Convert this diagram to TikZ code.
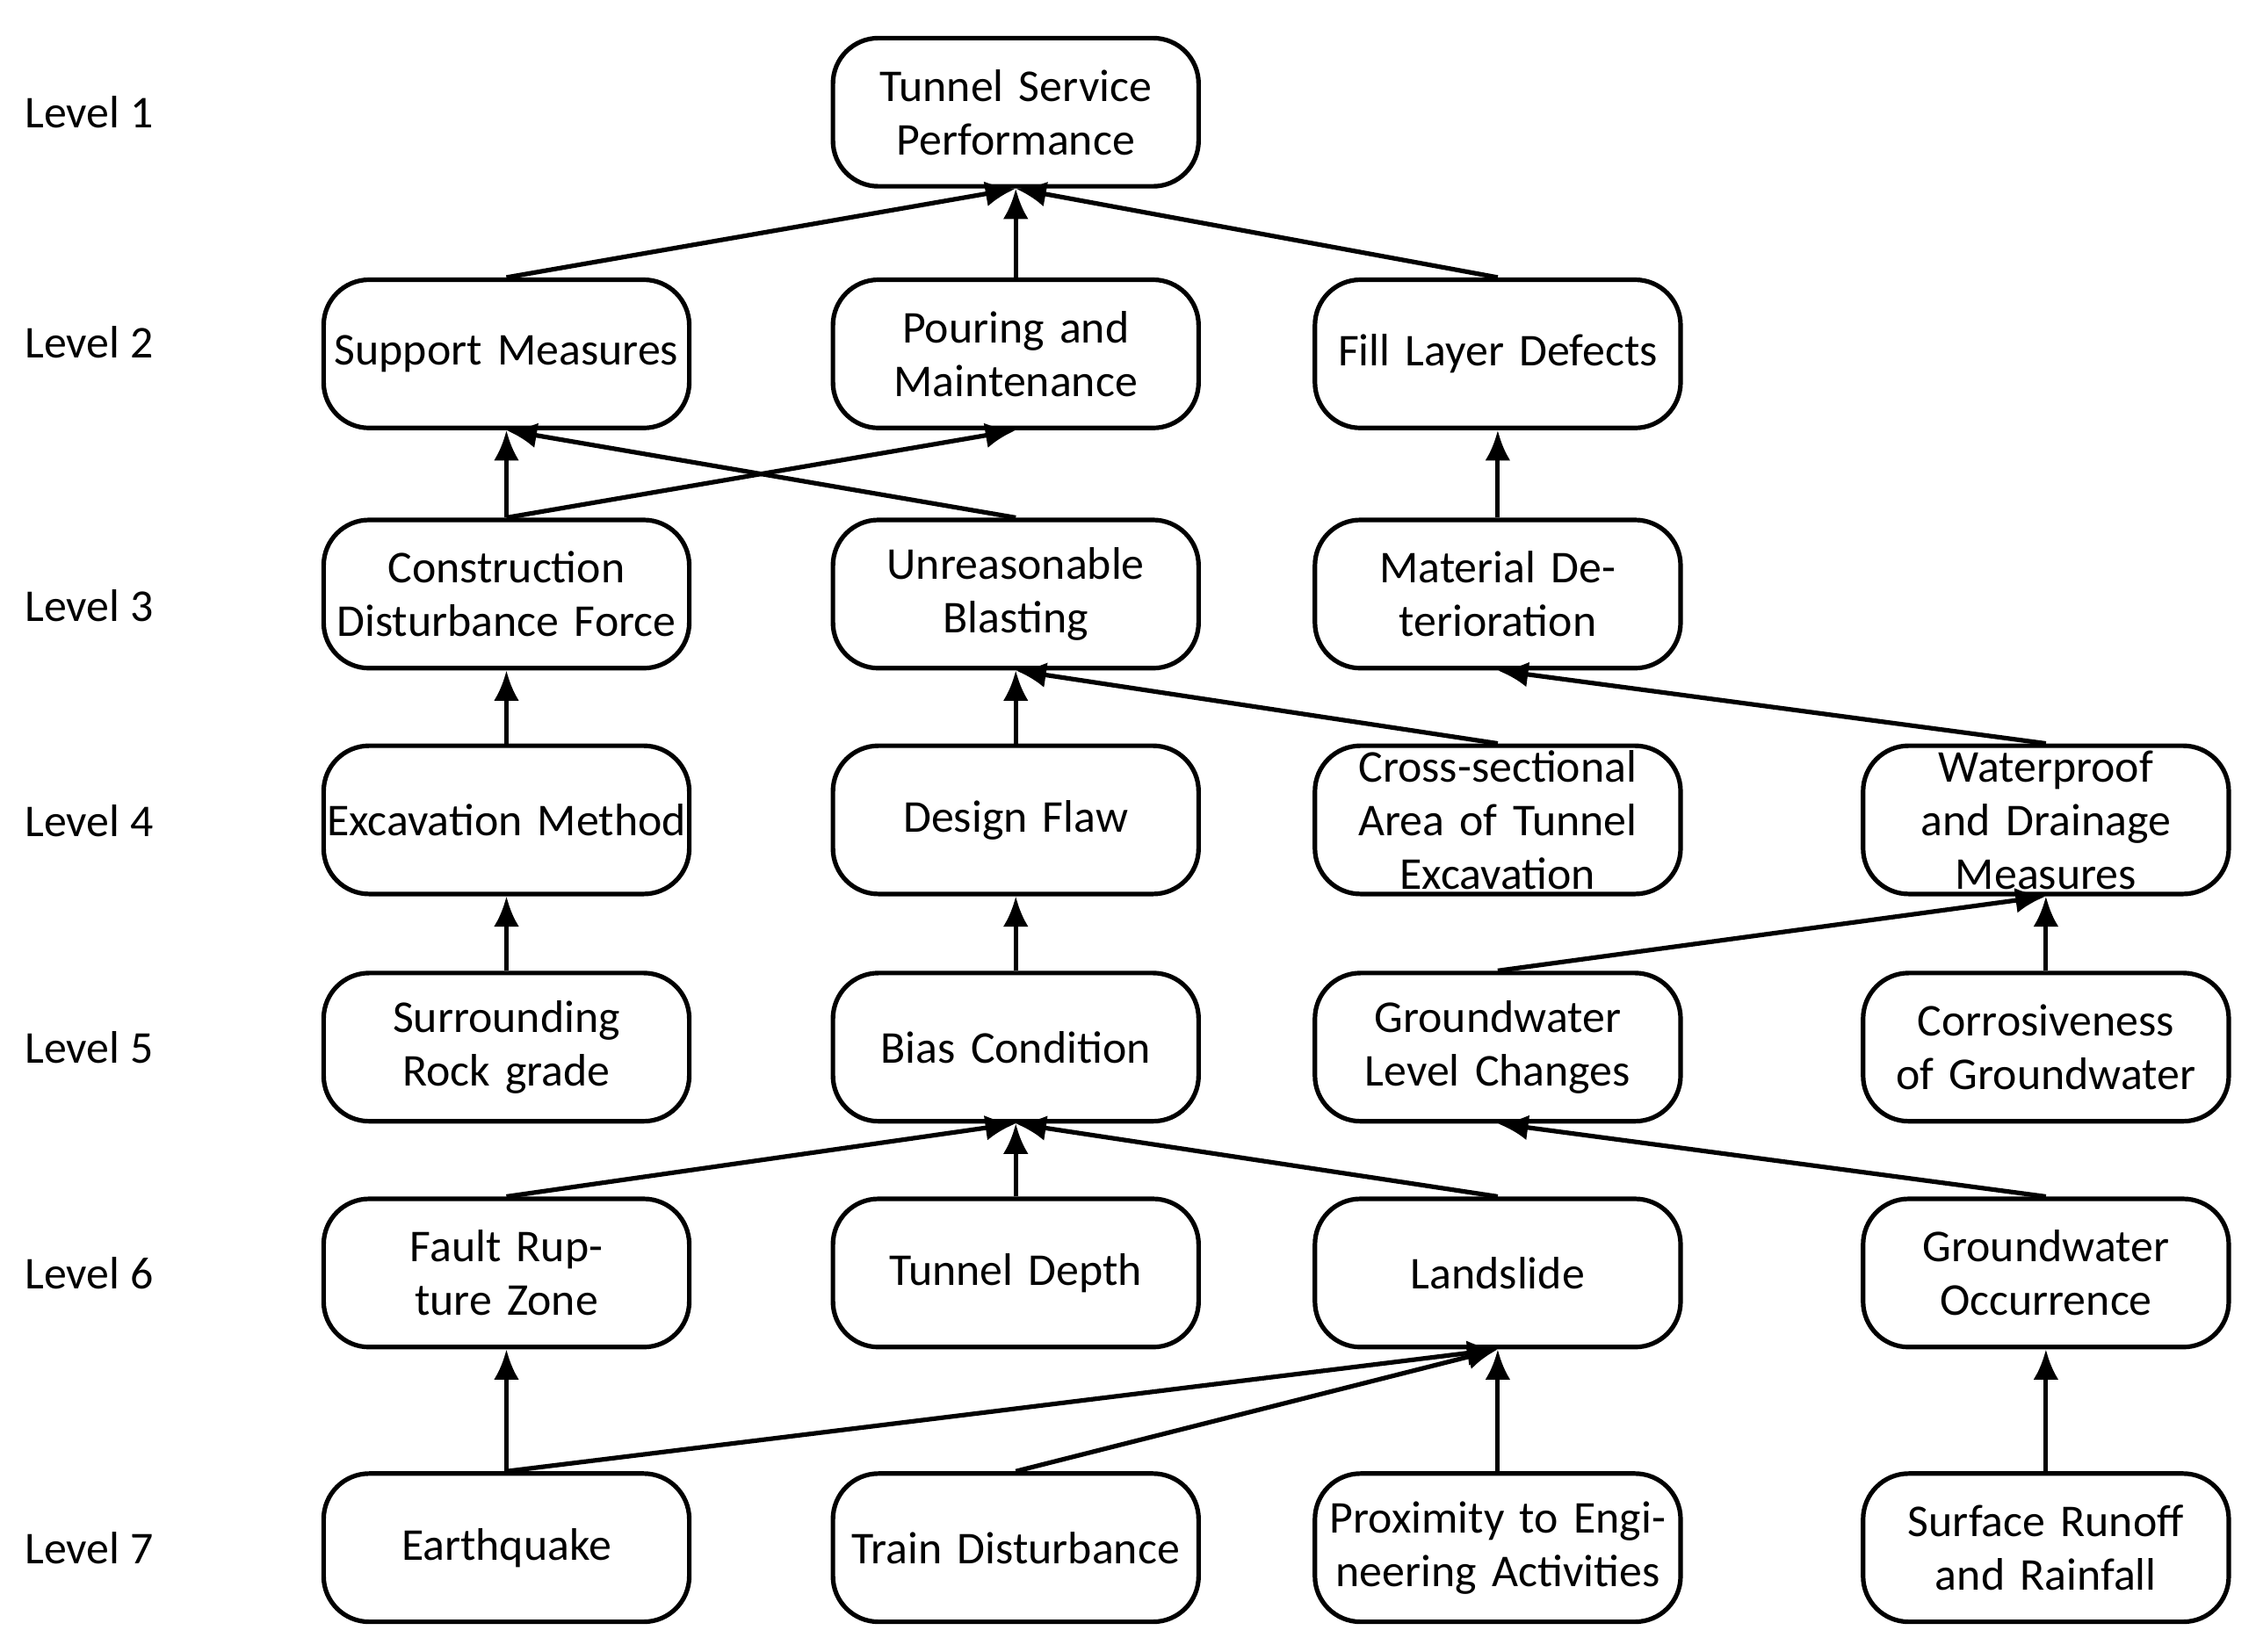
\documentclass[tikz,border=0pt]{standalone}
\usepackage{fontspec}
\setmainfont{Carlito}
\usetikzlibrary{arrows.meta}
\tikzset{
  box/.style={draw, rounded corners=9pt, line width=0.9pt, minimum width=2.54cm, minimum height=1.03cm, text width=2.5cm, align=center, inner sep=0pt, font=\fontsize{9}{10.6}\selectfont},
  lvl/.style={font=\fontsize{9}{10.6}\selectfont},
  link/.style={-{Latex[length=6pt,width=5pt]}, line width=0.9pt}
}
\begin{document}
\begin{tikzpicture}[x=0.01cm, y=-0.01cm]
\useasboundingbox (0,0) rectangle (1568,1148);

% level labels
\foreach \y/\n in {78/1,238/2,421/3,571/4,728/5,885/6,1076/7}
  \node[lvl] (lv\n) at (62,\y) {Level \n};

% level 1 and 2
\node[box] (tsp) at (706,78) {Tunnel Service Performance};
\node[box] (sm) at (352,246) {Support Measures};
\node[box] (pm) at (706,246) {Pouring and Maintenance};
\node[box] (fld) at (1041,246) {Fill Layer Defects};

% level 3
\node[box] (cdf) at (352,413) {Construction Disturbance Force};
\node[box] (ub) at (706,413) {Unreasonable Blasting};
\node[box] (md) at (1041,413) {Material Deterioration};

% level 4
\node[box] (em) at (352,570) {Excavation Method};
\node[box] (df) at (706,570) {Design Flaw};
\node[box] (csa) at (1041,570) {Cross-sectional Area of Tunnel Excavation};
\node[box] (wdm) at (1422,570) {Waterproof and Drainage Measures};

% level 5
\node[box] (srg) at (352,728) {Surrounding Rock grade};
\node[box] (bc) at (706,728) {Bias Condition};
\node[box] (glc) at (1041,728) {Groundwater Level Changes};
\node[box] (cg) at (1422,728) {Corrosiveness of Groundwater};

% level 6
\node[box] (frz) at (352,885) {Fault Rupture Zone};
\node[box] (td) at (706,885) {Tunnel Depth};
\node[box] (ls) at (1041,885) {Landslide};
\node[box] (go) at (1422,885) {Groundwater Occurrence};

% level 7
\node[box] (eq) at (352,1076) {Earthquake};
\node[box] (trd) at (706,1076) {Train Disturbance};
\node[box] (pea) at (1041,1076) {Proximity to Engineering Activities};
\node[box] (srr) at (1422,1076) {Surface Runoff and Rainfall};

% connectors
\foreach \a/\b in {sm/tsp,pm/tsp,fld/tsp,cdf/sm,cdf/pm,ub/sm,md/fld,
  em/cdf,df/ub,csa/ub,wdm/md,srg/em,bc/df,glc/wdm,cg/wdm,
  frz/bc,td/bc,ls/bc,go/glc,eq/frz,eq/ls,trd/ls,pea/ls,srr/go}
  \draw[link] (\a.north) -- (\b.south);
\end{tikzpicture}
\end{document}
